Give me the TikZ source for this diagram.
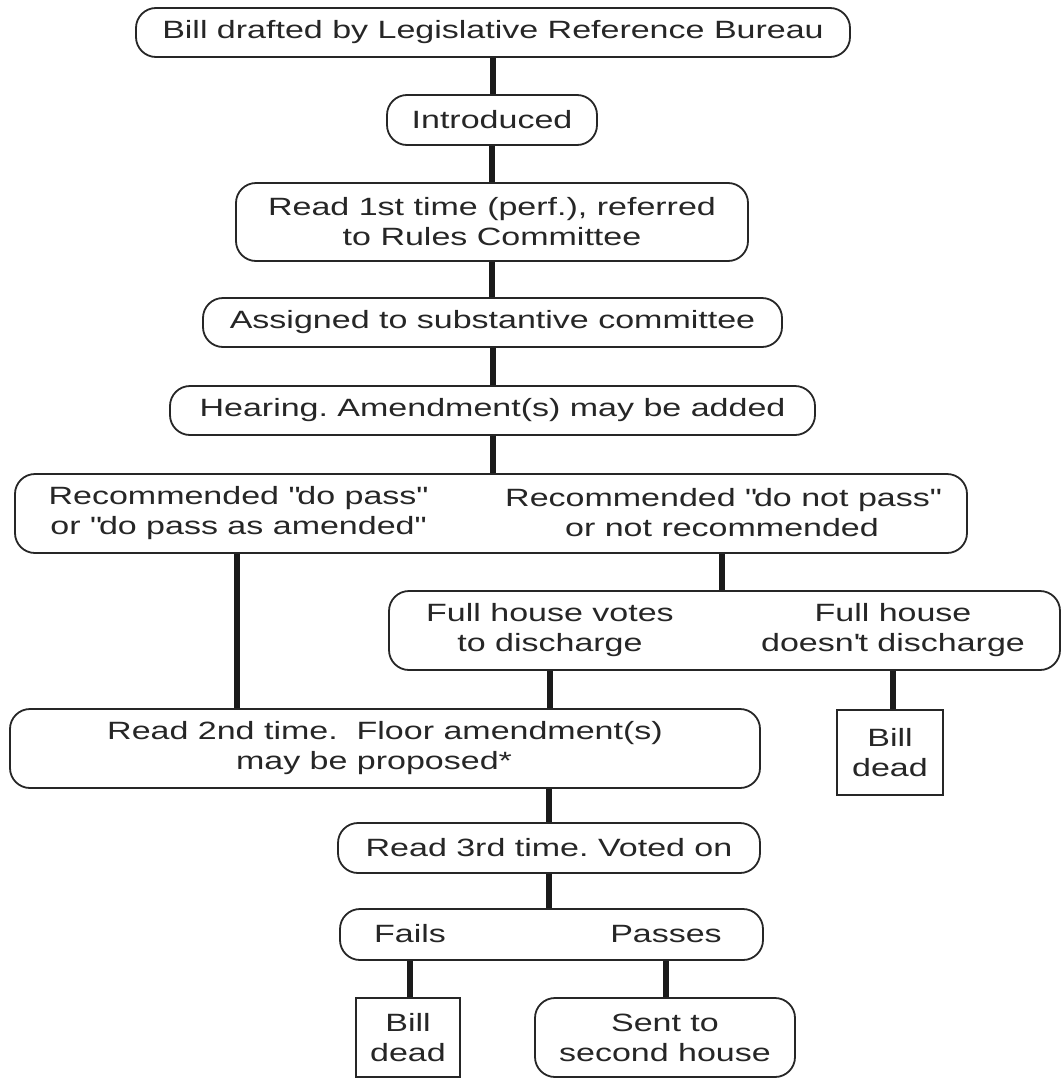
\documentclass[tikz,border=0pt]{standalone}
\usepackage{fontspec}
\setmainfont{Liberation Sans}[FakeStretch=1.36]
\definecolor{ink}{HTML}{262626}
\definecolor{wire}{HTML}{1A1A1A}
\newcommand{\dq}{\textquotedbl}
\begin{document}
\frenchspacing
\begin{tikzpicture}[x=1pt,y=-1pt,
  txt/.style={inner sep=0pt, align=center, text=ink, font=\fontsize{25}{30}\selectfont},
  box/.style={txt, draw=ink, line width=1.8pt, rounded corners=20pt, fill=white},
  sqbox/.style={box, rounded corners=0pt},
  conn/.style={draw=wire, line width=6pt}]
\useasboundingbox (0,0) rectangle (1061,1079);

% boxes
\node[box, minimum width=714, minimum height=49] (b1) at (493,32.5) {Bill drafted by Legislative Reference Bureau};
\node[box, minimum width=210, minimum height=50] (b2) at (492,120) {Introduced};
\node[box, minimum width=512, minimum height=78] (b3) at (492,222) {Read 1st time (perf.), referred\\to Rules Committee};
\node[box, minimum width=579, minimum height=49] (b4) at (492.5,322.5) {Assigned to substantive committee};
\node[box, minimum width=645, minimum height=49] (b5) at (492.5,410.5) {Hearing. Amendment(s) may be added};
\node[box, minimum width=952, minimum height=79] (b6) at (491,513.5) {};
\node[txt] (t6l) at (237,513) {Recommended \dq do pass\dq\\or \dq do pass as amended\dq};
\node[txt] (t6r) at (722,513) {Recommended \dq do not pass\dq\\or not recommended};
\node[box, minimum width=671, minimum height=79] (b7) at (724.5,630.5) {};
\node[txt] (t7l) at (550,630) {Full house votes\\to discharge};
\node[txt] (t7r) at (893,630) {Full house\\doesn\textquotesingle t discharge};
\node[sqbox, minimum width=106, minimum height=85] (b8) at (890,752.5) {Bill\\dead};
\node[box, minimum width=750, minimum height=79] (b9) at (385,748.5) {Read 2nd time.~ Floor amendment(s)\\may be proposed*\hspace*{22pt}};
\node[box, minimum width=422, minimum height=50] (b10) at (549,848) {Read 3rd time. Voted on};
\node[box, minimum width=423, minimum height=51] (b11) at (551.5,934.5) {};
\node[txt] (t11l) at (410,934) {Fails};
\node[txt] (t11r) at (666,934) {Passes};
\node[sqbox, minimum width=104, minimum height=79] (b12) at (408,1037.5) {Bill\\dead};
\node[box, minimum width=260, minimum height=79] (b13) at (665,1037.5) {Sent to\\second house};

% connectors
\draw[conn] (b1.south) -- (b1.south |- b2.north);
\draw[conn] (b2.south) -- (b2.south |- b3.north);
\draw[conn] (b3.south) -- (b3.south |- b4.north);
\draw[conn] (b4.south) -- (b4.south |- b5.north);
\draw[conn] (b5.south) -- (b5.south |- b6.north);
\draw[conn] (t6l |- b6.south) -- (t6l |- b9.north);
\draw[conn] (t6r |- b6.south) -- (t6r |- b7.north);
\draw[conn] (t7l |- b7.south) -- (t7l |- b9.north);
\draw[conn] (t7r |- b7.south) -- (t7r |- b8.north);
\draw[conn] (b10 |- b9.south) -- (b10.north);
\draw[conn] (b10.south) -- (b10.south |- b11.north);
\draw[conn] (t11l |- b11.south) -- (t11l |- b12.north);
\draw[conn] (t11r |- b11.south) -- (t11r |- b13.north);
\end{tikzpicture}
\end{document}
